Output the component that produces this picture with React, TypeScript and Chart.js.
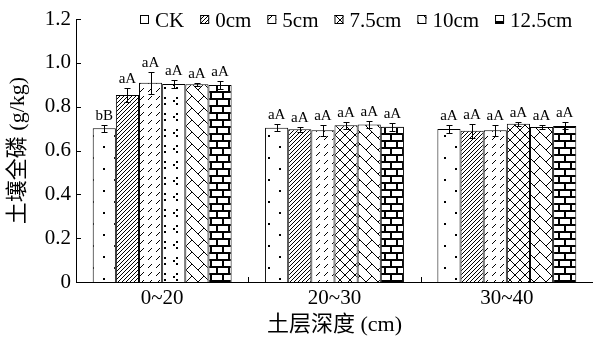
import React, { useEffect, useRef } from "react";
import { Chart, registerables } from "chart.js";

Chart.register(...registerables);

const categories = ["0~20", "20~30", "30~40"];
const seriesNames = ["CK", "0cm", "5cm", "7.5cm", "10cm", "12.5cm"];
const yTickLabels = ["0", "0.2", "0.4", "0.6", "0.8", "1.0", "1.2"];

const ckValues = [0.701, 0.704, 0.698];
const cm0Values = [0.853, 0.697, 0.69];
const cm5Values = [0.909, 0.692, 0.692];
const cm75Values = [0.903, 0.715, 0.722];
const cm10Values = [0.902, 0.719, 0.707];
const cm125Values = [0.899, 0.708, 0.712];

const ckErrors = [0.017, 0.017, 0.017];
const cm0Errors = [0.032, 0.012, 0.033];
const cm5Errors = [0.051, 0.026, 0.024];
const cm75Errors = [0.018, 0.016, 0.008];
const cm10Errors = [0.007, 0.016, 0.008];
const cm125Errors = [0.019, 0.019, 0.016];

const ckLetters = ["bB", "aA", "aA"];
const cm0Letters = ["aA", "aA", "aA"];
const cm5Letters = ["aA", "aA", "aA"];
const cm75Letters = ["aA", "aA", "aA"];
const cm10Letters = ["aA", "aA", "aA"];
const cm125Letters = ["aA", "aA", "aA"];

const allValues = [ckValues, cm0Values, cm5Values, cm75Values, cm10Values, cm125Values];
const allErrors = [ckErrors, cm0Errors, cm5Errors, cm75Errors, cm10Errors, cm125Errors];
const allLetters = [ckLetters, cm0Letters, cm5Letters, cm75Letters, cm10Letters, cm125Letters];

const FONT = '"Liberation Serif", "Noto Sans CJK SC", serif';

function makePattern(w: number, h: number, draw: (px: (x: number, y: number, s?: number) => void, c: CanvasRenderingContext2D) => void) {
  const cv = document.createElement("canvas");
  cv.width = w;
  cv.height = h;
  const c = cv.getContext("2d")!;
  c.fillStyle = "#fff";
  c.fillRect(0, 0, w, h);
  c.fillStyle = "#000";
  const px = (x: number, y: number, s = 1) => c.fillRect(x, y, s, s);
  draw(px, c);
  return c.createPattern(cv, "repeat")!;
}

function buildPatterns() {
  const dots = makePattern(22, 22, (px) => {
    px(4, 3, 2);
    px(15, 14, 2);
  });
  const diag = makePattern(4, 4, (px) => {
    for (let i = 0; i < 4; i++) px(3 - i, i);
  });
  const dashDiag = makePattern(8, 8, (px) => {
    for (let i = 0; i < 4; i++) px(7 - i, i);
  });
  const cross = makePattern(10, 10, (px) => {
    for (let i = 0; i < 10; i++) {
      px(i, i);
      px(9 - i, i);
    }
  });
  const chevron = makePattern(12, 12, (px) => {
    for (let i = 0; i < 12; i++) px(i, i);
    for (let i = 0; i < 6; i++) px(11 - i, i);
  });
  const dotChevron = makePattern(12, 16, (px) => {
    px(8, 1, 2);
    px(5, 4, 2);
    px(8, 7, 2);
  });
  const brick = makePattern(12, 14, (_px, c) => {
    c.fillRect(0, 0, 12, 2);
    c.fillRect(0, 7, 12, 2);
    c.fillRect(0, 2, 2, 5);
    c.fillRect(6, 9, 2, 5);
  });
  return { dots, diag, dashDiag, cross, chevron, dotChevron, brick };
}

export default function App() {
  const ref = useRef<HTMLCanvasElement | null>(null);

  useEffect(() => {
    const canvas = ref.current;
    if (!canvas) return;
    const p = buildPatterns();
    const backgrounds: any[] = [
      p.dots,
      p.diag,
      p.dashDiag,
      [p.dotChevron, p.cross, p.cross],
      p.chevron,
      p.brick,
    ];
    const legendFills = [p.dots, p.diag, p.dashDiag, p.cross, p.chevron, p.brick];

    const overlay = {
      id: "overlay",
      afterDatasetsDraw(chart: any) {
        const ctx: CanvasRenderingContext2D = chart.ctx;
        const ys = chart.scales.y;
        const xs = chart.scales.x;
        const area = chart.chartArea;
        ctx.save();
        ctx.strokeStyle = "#000";
        ctx.fillStyle = "#000";
        ctx.lineWidth = 1;
        // inward y ticks
        ys.ticks.forEach((t: any) => {
          const y = Math.round(ys.getPixelForValue(t.value)) + 0.5;
          ctx.beginPath();
          ctx.moveTo(area.left, y);
          ctx.lineTo(area.left + 5, y);
          ctx.stroke();
        });
        // inward x ticks at category boundaries
        for (let i = 0; i < categories.length - 1; i++) {
          const x = Math.round((xs.getPixelForValue(i) + xs.getPixelForValue(i + 1)) / 2) + 0.5;
          ctx.beginPath();
          ctx.moveTo(x, area.bottom);
          ctx.lineTo(x, area.bottom - 5);
          ctx.stroke();
        }
        // error bars + letters
        ctx.font = `15px ${FONT}`;
        ctx.textAlign = "center";
        ctx.textBaseline = "bottom";
        chart.data.datasets.forEach((ds: any, di: number) => {
          const meta = chart.getDatasetMeta(di);
          meta.data.forEach((el: any, i: number) => {
            const v = allValues[di][i];
            const e = allErrors[di][i];
            const x = Math.round(el.x) + 0.5;
            const yt = Math.round(ys.getPixelForValue(v + e)) + 0.5;
            const yb = Math.round(ys.getPixelForValue(v - e)) + 0.5;
            ctx.beginPath();
            ctx.moveTo(x, yt);
            ctx.lineTo(x, yb);
            ctx.moveTo(x - 3, yt);
            ctx.lineTo(x + 3, yt);
            ctx.moveTo(x - 3, yb);
            ctx.lineTo(x + 3, yb);
            ctx.stroke();
            ctx.fillText(allLetters[di][i], el.x, yt - 2);
          });
        });
        // legend
        ctx.font = `21px ${FONT}`;
        ctx.textAlign = "left";
        ctx.textBaseline = "middle";
        let lx = 140;
        const ly = 20;
        seriesNames.forEach((name, i) => {
          ctx.fillStyle = legendFills[i];
          ctx.fillRect(lx, ly - 5, 9, 9);
          ctx.strokeStyle = "#000";
          ctx.strokeRect(lx + 0.5, ly - 4.5, 8, 8);
          ctx.fillStyle = "#000";
          const tx = lx + 15;
          ctx.fillText(name, tx, ly + 1);
          lx = tx + ctx.measureText(name).width + 16;
        });
        ctx.restore();
      },
    };

    const chart = new Chart(canvas, {
      type: "bar",
      data: {
        labels: categories,
        datasets: seriesNames.map((name, i) => ({
          label: name,
          data: allValues[i],
          backgroundColor: backgrounds[i],
          borderColor: "#000",
          borderWidth: 1,
          categoryPercentage: 0.806,
          barPercentage: 1.0,
        })),
      },
      options: {
        responsive: false,
        animation: false,
        devicePixelRatio: 1,
        layout: { padding: { top: 19, left: 0, right: 0, bottom: 0 } },
        plugins: { legend: { display: false }, tooltip: { enabled: false } },
        scales: {
          x: {
            grid: { display: false, drawTicks: false },
            border: { display: true, color: "#000", width: 1 },
            ticks: { color: "#000", font: { family: FONT, size: 21 }, padding: 4 },
            title: {
              display: true,
              text: "土层深度 (cm)",
              color: "#000",
              font: { family: FONT, size: 22 },
              padding: { top: 0, bottom: 1 },
            },
            afterFit: (s: any) => {
              s.height = 57;
            },
          },
          y: {
            min: 0,
            max: 1.2,
            grid: { display: false, drawTicks: false },
            border: { display: true, color: "#000", width: 1 },
            ticks: {
              stepSize: 0.2,
              color: "#000",
              font: { family: FONT, size: 21 },
              padding: 5,
              callback: (_v: any, i: number) => yTickLabels[i],
            },
            title: {
              display: true,
              text: "土壤全磷 (g/kg)",
              color: "#000",
              font: { family: FONT, size: 22 },
              padding: { top: 5, bottom: 0 },
            },
            afterFit: (s: any) => {
              s.width = 76;
            },
          },
        },
      },
      plugins: [overlay],
    });
    return () => chart.destroy();
  }, []);

  return (
    <div style={{ position: "fixed", left: 0, top: 0, width: 593, height: 339, background: "#fff" }}>
      <canvas ref={ref} width={593} height={339} style={{ display: "block" }} />
    </div>
  );
}
